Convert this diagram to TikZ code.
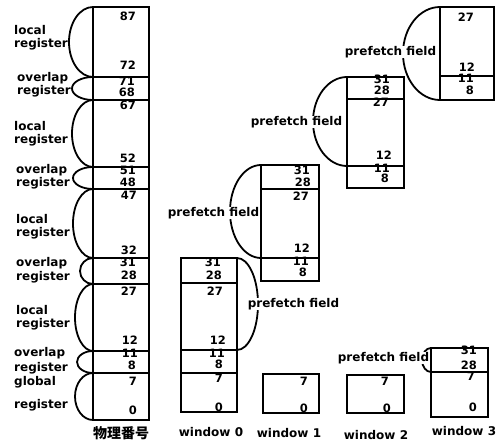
\documentclass[tikz,border=0pt]{standalone}
\usepackage{fontspec}
\setmainfont{DejaVu Sans}
\newfontfamily\cjkfont{Noto Sans CJK SC}
% half-ellipse from (x,ytop) to (x,ybot), bulging sideways by dx (negative = left)
\newcommand\halfloop[4]{%
  \pgfmathsetmacro\loopmid{(#2+#3)/2}%
  \pgfmathsetmacro\loophalf{(#3-#2)/2}%
  \draw[loopline] (#1,#2) .. controls ({#1+0.5523*(#4)},#2) and ({#1+(#4)},{\loopmid-0.5523*\loophalf}) .. ({#1+(#4)},\loopmid) .. controls ({#1+(#4)},{\loopmid+0.5523*\loophalf}) and ({#1+0.5523*(#4)},#3) .. (#1,#3);}
\begin{document}
\begin{tikzpicture}[x=1pt,y=-1pt,
  boxline/.style={line width=2pt},
  loopline/.style={line width=1.8pt},
  num/.style={font=\fontsize{11.5}{12}\selectfont\bfseries, inner sep=0pt, anchor=base east},
  side/.style={font=\fontsize{12}{13}\selectfont\bfseries, inner sep=0pt, anchor=base west},
  pf/.style={font=\fontsize{12}{13}\selectfont\bfseries, inner sep=0.6pt, fill=white},
  winlabel/.style={font=\fontsize{12}{13}\selectfont\bfseries, inner sep=0pt, anchor=center}
]
\useasboundingbox (0,0) rectangle (499,441);

% ---------- physical register file ----------
\halfloop{93}{7}{77}{-24}
\halfloop{93}{77}{100}{-21}
\halfloop{93}{100}{167}{-21}
\halfloop{93}{167}{189}{-20}
\halfloop{93}{189}{258}{-20}
\halfloop{93}{258}{284}{-13}
\halfloop{93}{284}{351}{-18}
\halfloop{93}{351}{373}{-16}
\halfloop{93}{373}{420}{-18}

\node[side] (l1a) at (14,35) {local};
\node[side] (l1b) at (14,48) {register};
\node[side] (o1a) at (17,82) {overlap};
\node[side] (o1b) at (17,95) {register};
\node[side] (l2a) at (14,131) {local};
\node[side] (l2b) at (14,144) {register};
\node[side] (o2a) at (16,174) {overlap};
\node[side] (o2b) at (16,187) {register};
\node[side] (l3a) at (16,224) {local};
\node[side] (l3b) at (16,237) {register};
\node[side] (o3a) at (16,267) {overlap};
\node[side] (o3b) at (16,281) {register};
\node[side] (l4a) at (16,315) {local};
\node[side] (l4b) at (16,328) {register};
\node[side] (o4a) at (14,357) {overlap};
\node[side] (o4b) at (14,372) {register};
\node[side] (g1a) at (14,385) {global};
\node[side] (g1b) at (14,409) {register};

\node[num] (p87) at (136,21) {87};
\node[num] (p72) at (136,70) {72};
\node[num] (p71) at (135,86) {71};
\node[num] (p68) at (135,97) {68};
\node[num] (p67) at (136,110) {67};
\node[num] (p52) at (136,163) {52};
\node[num] (p51) at (136,175) {51};
\node[num] (p48) at (136,187) {48};
\node[num] (p47) at (137,200) {47};
\node[num] (p32) at (137,255) {32};
\node[num] (p31) at (136,267) {31};
\node[num] (p28) at (137,280) {28};
\node[num] (p27) at (137,296) {27};
\node[num] (p12) at (138,345) {12};
\node[num] (p11) at (138,358) {11};
\node[num] (p8)  at (136,370) {8};
\node[num] (p7)  at (137,385) {7};
\node[num] (p0)  at (137,414) {0};

\draw[boxline] (93,7) rectangle (149,420);
\foreach \yy in {77,100,167,189,258,284,351,373}
  \draw[boxline] (93,\yy) -- (149,\yy);

% ---------- window 0 ----------
\halfloop{237}{258}{350}{21}
\node[pf, anchor=west] (pf0) at (247,304) {prefetch field};
\node[num] (a31) at (221,267) {31};
\node[num] (a28) at (222,280) {28};
\node[num] (a27) at (223,296) {27};
\node[num] (a12) at (226,345) {12};
\node[num] (a11) at (225,358) {11};
\node[num] (a8)  at (223,369) {8};
\node[num] (a7)  at (223,383) {7};
\node[num] (a0)  at (223,412) {0};
\draw[boxline] (181,258) rectangle (237,412);
\foreach \yy in {283,350,373}
  \draw[boxline] (181,\yy) -- (237,\yy);

% ---------- window 1 ----------
\halfloop{261}{165}{258}{-31}
\node[pf, anchor=east] (pf1) at (260,213) {prefetch field};
\node[num] (b31) at (310,175) {31};
\node[num] (b28) at (311,187) {28};
\node[num] (b27) at (309,201) {27};
\node[num] (b12) at (310,253) {12};
\node[num] (b11) at (309,266) {11};
\node[num] (b8)  at (307,277) {8};
\draw[boxline] (261,165) rectangle (319,281);
\foreach \yy in {189,258}
  \draw[boxline] (261,\yy) -- (319,\yy);
\node[num] (b7) at (308,386) {7};
\node[num] (b0) at (308,413) {0};
\draw[boxline] (263,374) rectangle (319,413);

% ---------- window 2 ----------
\halfloop{347}{77}{166}{-34}
\node[pf, anchor=east] (pf2) at (343,122) {prefetch field};
\node[num] (c31) at (390,84) {31};
\node[num] (c28) at (390,95) {28};
\node[num] (c27) at (389,107) {27};
\node[num] (c12) at (392,160) {12};
\node[num] (c11) at (390,173) {11};
\node[num] (c8)  at (389,183) {8};
\draw[boxline] (347,77) rectangle (404,188);
\foreach \yy in {99,166}
  \draw[boxline] (347,\yy) -- (404,\yy);
\node[num] (c7) at (389,385) {7};
\node[num] (c0) at (391,413) {0};
\draw[boxline] (347,375) rectangle (404,413);

% ---------- window 3 ----------
\halfloop{440}{7}{100}{-37}
\node[pf, anchor=east] (pf3) at (437,52) {prefetch field};
\node[num] (d27) at (474,22) {27};
\node[num] (d12) at (475,72) {12};
\node[num] (d11) at (474,83) {11};
\node[num] (d8)  at (474,95) {8};
\draw[boxline] (440,7) rectangle (494,100);
\draw[boxline] (440,76) -- (494,76);

\halfloop{431}{348}{372}{-9}
\node[pf, anchor=east] (pf4) at (430,358) {prefetch field};
\node[num] (e31) at (477,355) {31};
\node[num] (e28) at (477,370) {28};
\node[num] (e7)  at (475,381) {7};
\node[num] (e0)  at (477,412) {0};
\draw[boxline] (431,348) rectangle (488,417);
\draw[boxline] (431,372) -- (488,372);

% ---------- captions ----------
\node[winlabel, font=\fontsize{14}{15}\selectfont\cjkfont\bfseries] (phys) at (121,433) {物理番号};
\node[winlabel] (w0) at (211,432) {window 0};
\node[winlabel] (w1) at (289,433) {window 1};
\node[winlabel] (w2) at (376,435) {window 2};
\node[winlabel] (w3) at (464,431) {window 3};
\end{tikzpicture}
\end{document}
